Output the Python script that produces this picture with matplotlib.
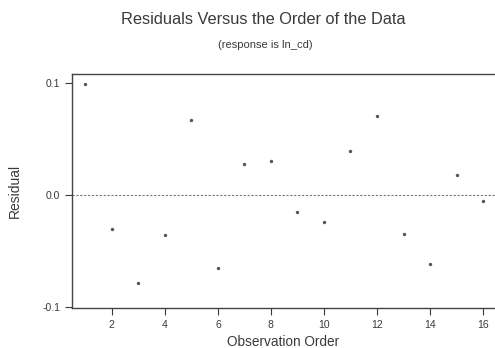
import matplotlib
matplotlib.use("Agg")
import matplotlib.pyplot as plt

# residuals in observation order
order = [1, 2, 3, 4, 5, 6, 7, 8, 9, 10, 11, 12, 13, 14, 15, 16]
residual = [0.099, -0.030, -0.079, -0.036, 0.067, -0.065, 0.028, 0.030,
            -0.015, -0.024, 0.039, 0.071, -0.035, -0.062, 0.018, -0.005]
xticks = [2, 4, 6, 8, 10, 12, 14, 16]
yticks = [-0.1, 0.0, 0.1]

plt.rcParams['font.family'] = ['Liberation Sans', 'DejaVu Sans']
ink = '#3a3a3a'

fig = plt.figure(figsize=(4.95, 3.48), dpi=100)
ax = fig.add_axes([0.1455, 0.115, 0.8545, 0.672])

ax.scatter(order, residual, s=6, color='#555555', marker='o', linewidths=0, zorder=3)
ax.axhline(0.0, color='#777777', linestyle=(0, (2, 1.5)), linewidth=0.8)

ax.set_xlim(0.5, 16.45)
ax.set_ylim(-0.101, 0.108)
ax.set_xticks(xticks)
ax.set_yticks(yticks)
ax.set_yticklabels(['-0.1', '0.0', '0.1'])
ax.tick_params(direction='out', length=5, width=0.8, labelsize=7.5, colors=ink)
for side in ['left', 'top', 'bottom']:
    ax.spines[side].set_color('#444444')
    ax.spines[side].set_linewidth(1.0)
ax.spines['right'].set_visible(False)

ax.set_xlabel('Observation Order', fontsize=9.8, color=ink, labelpad=4)
ax.set_ylabel('Residual', fontsize=10, color=ink, labelpad=15)

fig.text(0.532, 0.943, 'Residuals Versus the Order of the Data', ha='center',
         va='center', fontsize=11.8, color=ink)
fig.text(0.535, 0.87, '(response is ln_cd)', ha='center', va='center',
         fontsize=8, color=ink)

fig.savefig('out.png', dpi=100)
